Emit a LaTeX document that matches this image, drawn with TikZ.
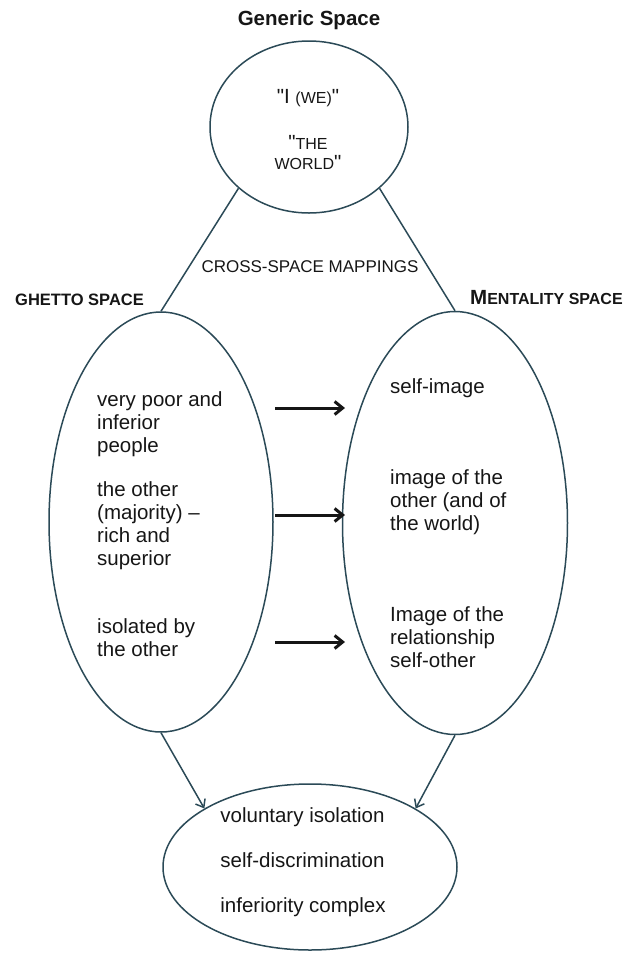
\documentclass[tikz,border=0pt]{standalone}
\usepackage{fontspec}
\setmainfont{Liberation Sans}[Ligatures=TeXOff]
\usetikzlibrary{shapes.geometric,arrows.meta}
\definecolor{contorno}{HTML}{2B4A57}
\definecolor{tinta}{HTML}{161616}
% versaletes falsos (a fonte nao tem)
\newcommand{\versal}[1]{{\fontsize{16}{18}\selectfont #1}}

\begin{document}
\begin{tikzpicture}[x=1pt,y=1pt,
    every node/.style={text=tinta,inner sep=0pt},
    espaco/.style={draw=contorno,line width=1.5pt,ellipse},
    texto/.style={font=\fontsize{20.5}{23}\selectfont,align=left,anchor=west},
    liga/.style={draw=contorno,line width=1.5pt},
    mapa/.style={draw=tinta,line width=3pt,-{Straight Barb[length=8pt,width=13pt]}}]
  \useasboundingbox (0,0) rectangle (631,-954);
  % os quatro espacos
  \node[espaco,minimum width=198pt,minimum height=172pt] (gen) at (309,-127) {};
  \node[espaco,minimum width=224pt,minimum height=420pt] (ghetto) at (161,-522) {};
  \node[espaco,minimum width=225pt,minimum height=423pt] (mentality) at (455,-523) {};
  \node[espaco,minimum width=294pt,minimum height=166pt] (blend) at (310,-867) {};
  % titulos
  \node[font=\bfseries\fontsize{20.5}{23}\selectfont] (titgen) at (309,-20) {Generic Space};
  \node[font=\bfseries\fontsize{16.5}{18}\selectfont,anchor=west] (titghetto) at (15,-300) {GHETTO SPACE};
  \node[font=\bfseries,anchor=west] (titment) at (470,-298)
    {{\fontsize{20.5}{23}\selectfont M}{\fontsize{16}{18}\selectfont ENTALITY SPACE}};
  % espaco generico
  \node[font=\fontsize{20.5}{23}\selectfont] (eu) at (308,-98) {"I \versal{(WE)}"};
  \node[font=\fontsize{20.5}{20}\selectfont,align=center] (mundo) at (308,-153)
    {"\versal{THE}\\\versal{WORLD}"};
  \node[font=\fontsize{17}{20}\selectfont] (cross) at (310,-267) {CROSS-SPACE MAPPINGS};
  % espaco do gueto
  \node[texto] (g1) at (97,-424.5) {very poor and\\inferior\\people};
  \node[texto] (g2) at (97,-526) {the other\\(majority) –\\rich and\\superior};
  \node[texto] (g3) at (97,-637.5) {isolated by\\the other};
  % espaco da mentalidade
  \node[texto] (r1) at (390,-388) {self-image};
  \node[texto] (r2) at (390,-502) {image of the\\other (and of\\the world)};
  \node[texto] (r3) at (390,-637) {Image of the\\relationship\\self-other};
  % mescla
  \node[texto,anchor=center] (b1) at (303,-862)
    {voluntary isolation\\[22pt]self-discrimination\\[22pt]inferiority complex};
  % ligacoes
  \draw[liga] (gen.221) -- (ghetto.north);
  \draw[liga] (gen.319) -- (mentality.north);
  \draw[liga,-{Straight Barb[length=7pt,width=11pt]}] (ghetto.south) -- (blend.151);
  \draw[liga,-{Straight Barb[length=7pt,width=11pt]}] (mentality.south) -- (blend.29);
  % setas de mapeamento
  \foreach \y [count=\i] in {408,515,642} {
    \coordinate (m\i a) at (275,-\y);
    \coordinate (m\i b) at (345,-\y);
    \draw[mapa] (m\i a) -- (m\i b);
  }
\end{tikzpicture}
\end{document}
